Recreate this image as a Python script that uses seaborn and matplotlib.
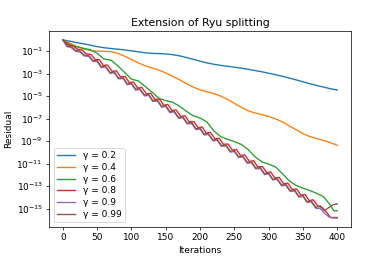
import numpy as np
import pandas as pd
import matplotlib
matplotlib.use("Agg")
import matplotlib.pyplot as plt
from matplotlib.ticker import NullLocator
import seaborn as sns

# residual curves, stored as log10(residual)
gammas = ["0.2", "0.4", "0.6", "0.8", "0.9", "0.99"]

it_smooth = [0, 10, 20, 30, 40, 50, 60, 70, 80, 90, 100, 110, 120, 130, 140, 150, 160, 170, 180, 190, 200,
             210, 220, 230, 240, 250, 260, 270, 280, 290, 300, 310, 320, 330, 340, 350, 360, 370, 380, 390, 400]

log_g02 = [0.0, -0.12, -0.24, -0.35, -0.47, -0.6, -0.7, -0.77, -0.83, -0.9, -0.98, -1.07, -1.15, -1.2, -1.22,
           -1.25, -1.32, -1.42, -1.57, -1.73, -1.9, -2.05, -2.17, -2.27, -2.35, -2.43, -2.52, -2.62, -2.73,
           -2.84, -2.97, -3.1, -3.24, -3.4, -3.56, -3.73, -3.9, -4.06, -4.2, -4.35, -4.46]

log_g04 = [0.0, -0.3, -0.6, -0.8, -0.95, -1.0, -1.02, -1.05, -1.2, -1.45, -1.75, -2.05, -2.3, -2.5, -2.7,
           -2.95, -3.25, -3.55, -3.9, -4.2, -4.45, -4.62, -4.78, -5.0, -5.3, -5.65, -6.0, -6.3, -6.5, -6.65,
           -6.82, -7.02, -7.3, -7.65, -8.0, -8.35, -8.6, -8.78, -8.95, -9.15, -9.38]

it_g06 = [0, 10, 20, 30, 40, 50, 60, 70, 80, 90, 100, 110, 120, 130, 140, 150, 160, 170, 180, 190, 200,
          210, 220, 230, 240, 250, 260, 270, 280, 290, 300, 310, 320, 330, 340, 350, 360, 370, 380, 390, 395, 400]
log_g06 = [0.0, -0.42, -0.6, -0.75, -0.88, -1.2, -1.7, -1.8, -2.3, -2.9, -3.5, -3.65, -4.15, -4.65, -5.2,
           -5.4, -5.55, -5.9, -6.35, -6.75, -6.95, -7.3, -8.1, -8.6, -8.85, -9.05, -9.3, -9.75, -10.4, -10.85,
           -11.05, -11.3, -11.9, -12.55, -12.95, -13.2, -13.4, -13.65, -13.95, -14.7, -15.2, -15.2]

it_osc = [0, 6, 12, 19, 25, 31, 38, 44, 50, 56, 62, 69, 75, 81, 88, 94, 100, 106, 112, 119, 125, 131, 138,
          144, 150, 156, 162, 169, 175, 181, 188, 194, 200, 206, 212, 219, 225, 231, 238, 244, 250, 256, 262,
          269, 275, 281, 288, 294, 300, 306, 312, 319, 325, 331, 338, 344, 350, 356, 362, 369, 375, 381, 388,
          394, 400]

it_osc_r = [0, 9, 15, 22, 28, 34, 41, 47, 53, 59, 65, 72, 78, 84, 91, 97, 103, 109, 115, 122, 128, 134, 141,
            147, 153, 159, 165, 172, 178, 184, 191, 197, 203, 209, 215, 222, 228, 234, 241, 247, 253, 259, 265,
            272, 278, 284, 291, 297, 303, 309, 315, 322, 328, 334, 341, 347, 353, 359, 365, 372, 378, 384, 390,
            395, 400]

log_g08 = [0.0, -0.5, -0.55, -0.85, -0.9, -1.25, -1.3, -1.75, -1.75,
           -2.29, -2.23, -2.81, -2.75, -3.29, -3.27, -3.81,
           -3.75, -4.29, -4.23, -4.81, -4.75, -5.29, -5.27, -5.81,
           -5.75, -6.29, -6.23, -6.81, -6.75, -7.29, -7.27, -7.81,
           -7.75, -8.29, -8.23, -8.81, -8.75, -9.29, -9.27, -9.81,
           -9.75, -10.29, -10.23, -10.81, -10.75, -11.29, -11.27, -11.81,
           -11.75, -12.29, -12.23, -12.81, -12.75, -13.29, -13.27, -13.81,
           -13.75, -14.29, -14.23, -14.81, -14.9, -15.3, -15.8, -15.8, -15.8]

log_g09 = [0.0, -0.6, -0.68, -1.03, -1.08, -1.43, -1.48, -1.93, -1.93,
           -2.47, -2.41, -2.99, -2.93, -3.47, -3.45, -3.99,
           -3.93, -4.47, -4.41, -4.99, -4.93, -5.47, -5.45, -5.99,
           -5.93, -6.47, -6.41, -6.99, -6.93, -7.47, -7.45, -7.99,
           -7.93, -8.47, -8.41, -8.99, -8.93, -9.47, -9.45, -9.99,
           -9.93, -10.47, -10.41, -10.99, -10.93, -11.47, -11.45, -11.99,
           -11.93, -12.47, -12.41, -12.99, -12.93, -13.47, -13.45, -13.99,
           -13.93, -14.47, -14.41, -14.99, -15.0, -15.4, -15.75, -15.85, -15.85]

log_g099 = [0.0, -0.55, -0.6, -0.95, -1.0, -1.35, -1.4, -1.85, -1.85,
            -2.39, -2.33, -2.91, -2.85, -3.39, -3.37, -3.91,
            -3.85, -4.39, -4.33, -4.91, -4.85, -5.39, -5.37, -5.91,
            -5.85, -6.39, -6.33, -6.91, -6.85, -7.39, -7.37, -7.91,
            -7.85, -8.39, -8.33, -8.91, -8.85, -9.39, -9.37, -9.91,
            -9.85, -10.39, -10.33, -10.91, -10.85, -11.39, -11.37, -11.91,
            -11.85, -12.39, -12.33, -12.91, -12.85, -13.39, -13.37, -13.91,
            -13.85, -14.39, -14.33, -14.91, -14.75, -15.2, -14.9, -14.65, -14.6]

series = [(it_smooth, log_g02), (it_smooth, log_g04), (it_g06, log_g06),
          (it_osc_r, log_g08), (it_osc, log_g09), (it_osc, log_g099)]

# long-form table for seaborn
frames = []
for g, (its, logs) in zip(gammas, series):
    frames.append(pd.DataFrame({
        "Iterations": its,
        "Residual": 10.0 ** np.array(logs),
        "gamma": "γ = " + g,
    }))
df = pd.concat(frames, ignore_index=True)

fig, ax = plt.subplots(figsize=(6, 4), dpi=65)
fig.subplots_adjust(left=0.126, right=0.9, top=0.881, bottom=0.127)
sns.lineplot(data=df, x="Iterations", y="Residual", hue="gamma",
             palette=sns.color_palette("tab10", 6), estimator=None, ax=ax)
ax.set_yscale("log")
ax.set_yticks([10.0 ** e for e in range(-15, 0, 2)])
ax.yaxis.set_minor_locator(NullLocator())
ax.set_title("Extension of Ryu splitting")
ax.set_xlabel("Iterations")
ax.set_ylabel("Residual")
ax.legend(loc="lower left", title=None, labelspacing=0.3)

fig.savefig("out.png")
